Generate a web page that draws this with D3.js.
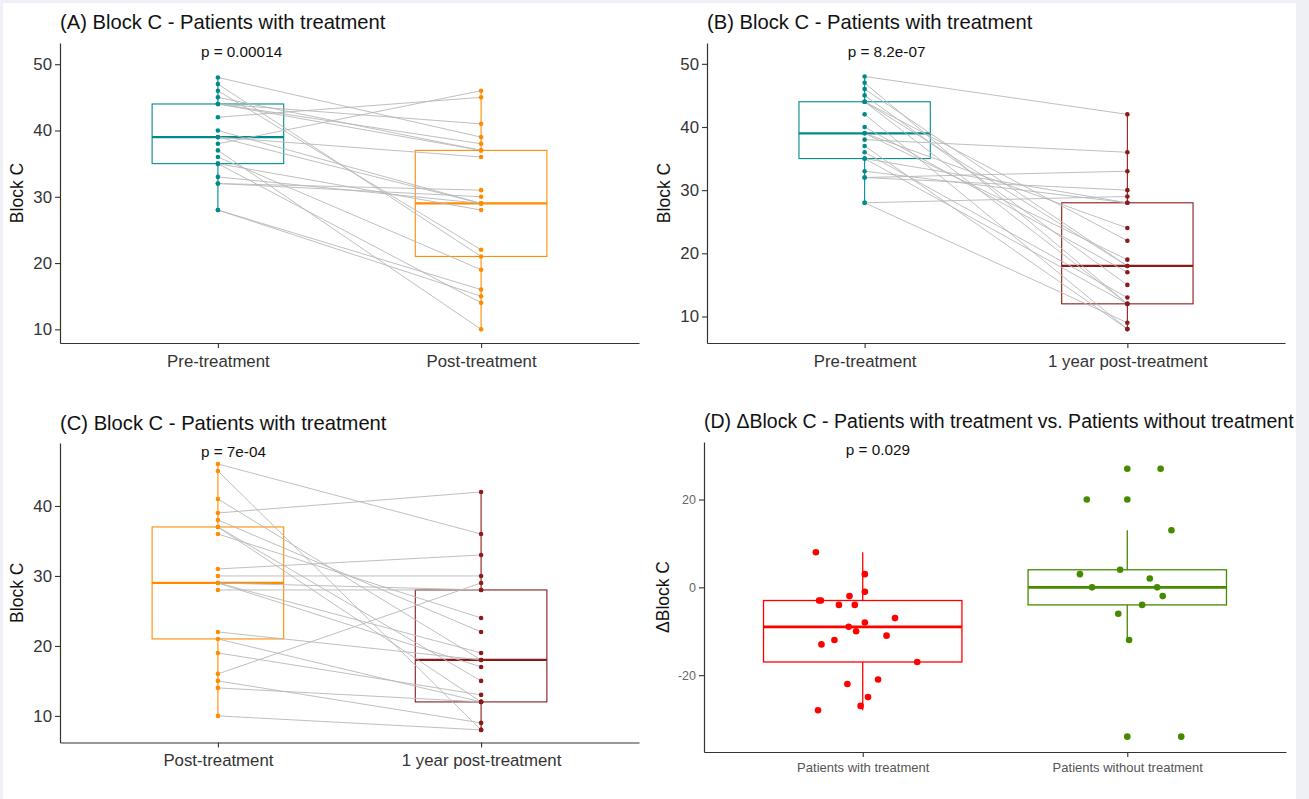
<!DOCTYPE html>
<html>
<head>
<meta charset="utf-8">
<script src="https://cdn.jsdelivr.net/npm/d3@7"></script>
<style>
  html, body { margin: 0; padding: 0; background: #eff0f6; }
  svg { display: block; }
  text { font-family: "Liberation Sans", Arial, sans-serif; }
</style>
</head>
<body>
<svg id="chart" width="1309" height="799"></svg>
<script>
// ---------------- DATA ----------------
const catsA = ["Pre-treatment", "Post-treatment"];
const catsB = ["Pre-treatment", "1 year post-treatment"];
const catsC = ["Post-treatment", "1 year post-treatment"];
const catsD = ["Patients with treatment", "Patients without treatment"];

// paired patient values (Block C)
const preValues  = [48, 38, 42, 28, 28, 37, 33, 32, 32, 44, 39, 44, 45, 44, 39, 40, 36, 35, 47, 46, 35];
const postValues = [39, 46, 45, 16, 15, 10, 29, 31, 30, 41, 36, 37, 37, 38, 29, 29, 19, 14, 21, 22, 28];
const yearValues = [42, 36,  8, 29,  9,  8, 28, 33, 30, 18, 24, 12, 15, 22, 19, 17, 13, 12, 12, 18, 28];

// delta Block C
const treatedDelta  = [8, 3, -1, -3, -3, -2, -4, -4, -7, -8, -9, -10, -11, -12, -13, -17, -21, -22, -25, -27, -28];
const treatedJitter = [-0.177, 0.008, 0.008, -0.158, -0.165, -0.05, -0.09, -0.03, 0.122, 0.008, -0.053, -0.025, 0.09, -0.107, -0.156, 0.206, 0.058, -0.058, 0.02, -0.008, -0.169];
const untreatedDelta  = [27, 20, 13, 4, 3, 2, 0, 0, -2, -4, -6, -12, -34];
const untreatedJitter = [0.126, -0.153, 0.167, -0.027, -0.179, 0.085, -0.133, 0.113, 0.134, 0.056, -0.034, 0.007, 0.204];

const pLabels = ["p = 0.00014", "p = 8.2e-07", "p = 7e-04", "p = 0.029"];
const ticksBlock = [10, 20, 30, 40, 50];
const ticksBlockC = [10, 20, 30, 40];
const ticksDelta = [-20, 0, 20];

// ---------------- STYLE ----------------
const COL = { pre: "#008B8B", post: "#FF8C00", year: "#8B1A1A", treat: "#FF0000", untreat: "#458B00" };
const svg = d3.select("#chart");
svg.append("rect").attr("x", 3).attr("y", 3).attr("width", 1293).attr("height", 796).attr("fill", "#ffffff");

function boxStats(vals) {
  const s = vals.slice().sort(d3.ascending);
  const q1 = d3.quantile(s, 0.25), med = d3.quantile(s, 0.5), q3 = d3.quantile(s, 0.75);
  const iqr = q3 - q1;
  const inside = s.filter(v => v >= q1 - 1.5 * iqr && v <= q3 + 1.5 * iqr);
  return { q1, med, q3, lo: d3.min(inside), hi: d3.max(inside),
           out: s.filter(v => v < q1 - 1.5 * iqr || v > q3 + 1.5 * iqr) };
}

function drawBox(g, st, cx, w, y, color, lw, mw) {
  g.append("line").attr("x1", cx).attr("x2", cx).attr("y1", y(st.q3)).attr("y2", y(st.hi))
    .attr("stroke", color).attr("stroke-width", lw);
  g.append("line").attr("x1", cx).attr("x2", cx).attr("y1", y(st.q1)).attr("y2", y(st.lo))
    .attr("stroke", color).attr("stroke-width", lw);
  g.append("rect").attr("x", cx - w / 2).attr("width", w)
    .attr("y", y(st.q3)).attr("height", y(st.q1) - y(st.q3))
    .attr("fill", "#ffffff").attr("stroke", color).attr("stroke-width", lw);
  g.append("line").attr("x1", cx - w / 2).attr("x2", cx + w / 2).attr("y1", y(st.med)).attr("y2", y(st.med))
    .attr("stroke", color).attr("stroke-width", mw);
}

function drawAxes(g, p, x, y, ticks, small) {
  const ya = d3.axisLeft(y).tickValues(ticks).tickFormat(d => String(d)).tickSize(5).tickSizeOuter(0).tickPadding(3);
  const xa = d3.axisBottom(x).tickSize(5).tickSizeOuter(0).tickPadding(small ? 6 : 7);
  const gy = g.append("g").attr("transform", `translate(${p.left},0)`).call(ya);
  const gx = g.append("g").attr("transform", `translate(0,${p.bottom})`).call(xa);
  [gx, gy].forEach(a => {
    a.select(".domain").attr("stroke", "#333").attr("stroke-width", 1.2);
    a.selectAll(".tick line").attr("stroke", "#333").attr("stroke-width", 1.1);
    a.selectAll("text").attr("fill", small ? "#666" : "#333")
      .style("font-size", small ? "12.5px" : "16.8px").style("font-family", '"Liberation Sans", Arial, sans-serif');
  });
  if (small) gx.selectAll("text").style("font-size", "13px").attr("fill", "#555");
}

function titles(g, p, title, ytitle, plabel, x, cats) {
  g.append("text").attr("x", p.left).attr("y", p.titleY).text(title)
    .style("font-size", p.titleSize).attr("fill", "#111");
  g.append("text").attr("transform", `translate(${p.ytx},${(p.top + p.bottom) / 2}) rotate(-90)`)
    .attr("text-anchor", "middle").text(ytitle).style("font-size", "17.5px").attr("fill", "#111");
  g.append("text").attr("x", x(cats[0]) - 17).attr("y", p.pY).text(plabel)
    .style("font-size", "15.3px").attr("fill", "#111");
}

function pairedPanel(p, cats, a, b, ca, cb, title, plabel, ticks) {
  const g = svg.append("g");
  const x = d3.scalePoint().domain(cats).range([p.left, p.right]).padding(0.6);
  const y = d3.scaleLinear().domain(p.domain).range([p.bottom, p.top]);
  const bw = x.step() * 0.5;
  drawAxes(g, p, x, y, ticks, false);
  drawBox(g, boxStats(a), x(cats[0]), bw, y, ca, 1.1, 2.2);
  drawBox(g, boxStats(b), x(cats[1]), bw, y, cb, 1.1, 2.2);
  g.append("g").selectAll("line").data(a.map((v, i) => [v, b[i]])).join("line")
    .attr("x1", x(cats[0])).attr("x2", x(cats[1]))
    .attr("y1", d => y(d[0])).attr("y2", d => y(d[1]))
    .attr("stroke", "#b8b8b8").attr("stroke-width", 0.9);
  g.append("g").selectAll("circle").data(a).join("circle")
    .attr("cx", x(cats[0])).attr("cy", d => y(d)).attr("r", 2.3).attr("fill", ca);
  g.append("g").selectAll("circle").data(b).join("circle")
    .attr("cx", x(cats[1])).attr("cy", d => y(d)).attr("r", 2.3).attr("fill", cb);
  titles(g, p, title, "Block C", plabel, x, cats);
}

const pA = { left: 60, right: 639, top: 43, bottom: 343, domain: [7.94, 53.2], titleY: 29, ytx: 23, pY: 57, titleSize: "20.2px" };
const pB = { left: 707, right: 1285, top: 43, bottom: 343, domain: [5.8, 53.3], titleY: 29, ytx: 670, pY: 57, titleSize: "20.2px" };
const pC = { left: 60, right: 639, top: 443, bottom: 742.5, domain: [6.2, 49], titleY: 430, ytx: 23, pY: 457, titleSize: "20.2px" };
const pD = { left: 704, right: 1286, top: 442, bottom: 752, domain: [-37.5, 33.1], titleY: 428, ytx: 669, pY: 455, titleSize: "19.5px" };

pairedPanel(pA, catsA, preValues, postValues, COL.pre, COL.post, "(A) Block C - Patients with treatment", pLabels[0], ticksBlock);
pairedPanel(pB, catsB, preValues, yearValues, COL.pre, COL.year, "(B) Block C - Patients with treatment", pLabels[1], ticksBlock);
pairedPanel(pC, catsC, postValues, yearValues, COL.post, COL.year, "(C) Block C - Patients with treatment", pLabels[2], ticksBlockC);

// Panel D
(function () {
  const p = pD;
  const g = svg.append("g");
  const x = d3.scalePoint().domain(catsD).range([p.left, p.right]).padding(0.6);
  const y = d3.scaleLinear().domain(p.domain).range([p.bottom, p.top]);
  const bw = x.step() * 0.75;
  drawAxes(g, p, x, y, ticksDelta, true);
  const groups = [[treatedDelta, treatedJitter, COL.treat], [untreatedDelta, untreatedJitter, COL.untreat]];
  groups.forEach(([vals, jit, col], k) => {
    const cx = x(catsD[k]);
    const st = boxStats(vals);
    drawBox(g, st, cx, bw, y, col, 1.3, 2.6);
    g.append("g").selectAll("circle").data(st.out).join("circle")
      .attr("cx", cx).attr("cy", d => y(d)).attr("r", 3.3).attr("fill", col);
    g.append("g").selectAll("circle").data(vals).join("circle")
      .attr("cx", (d, i) => cx + jit[i] * x.step()).attr("cy", d => y(d)).attr("r", 3.3).attr("fill", col);
  });
  titles(g, p, "(D) \u0394Block C - Patients with treatment vs. Patients without treatment", "\u0394Block C", pLabels[3], x, catsD);
})();
</script>
</body>
</html>
